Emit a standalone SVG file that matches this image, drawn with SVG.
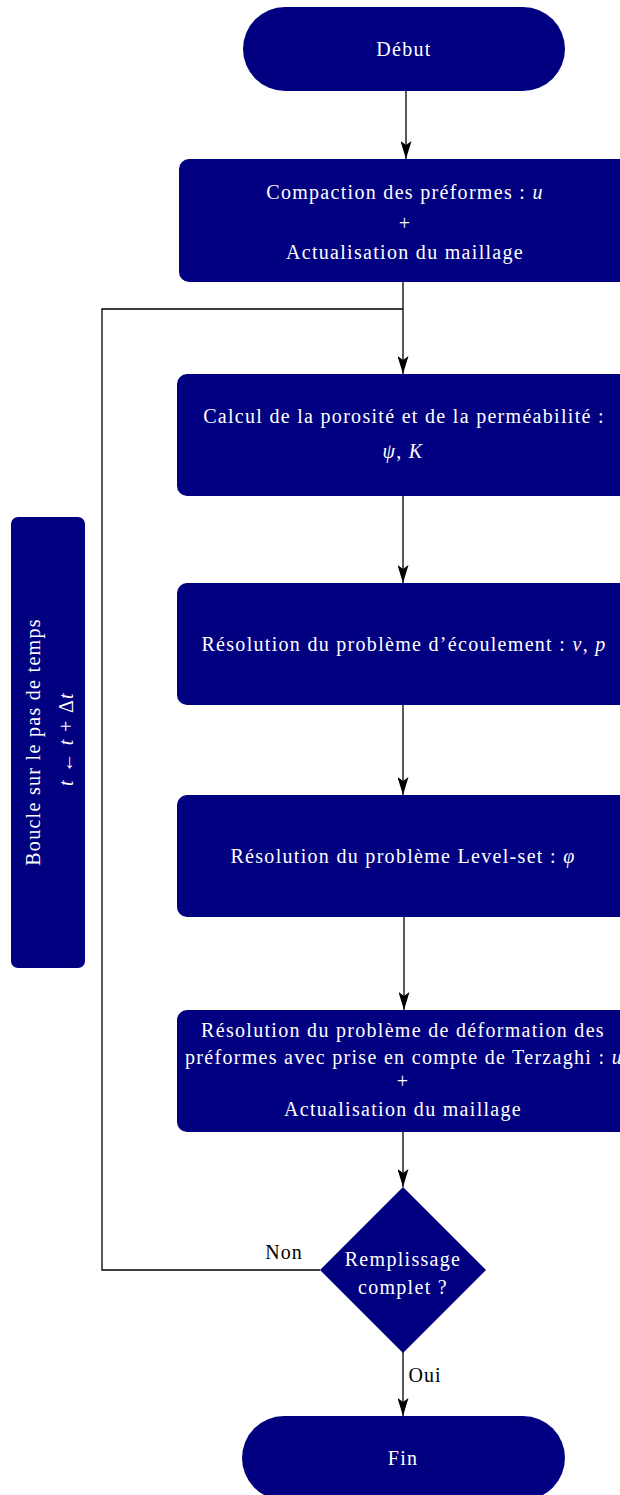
<svg xmlns="http://www.w3.org/2000/svg" width="620" height="1495" viewBox="0 0 620 1495">
<style>
.n{fill:#000080}
.t{font-family:"Liberation Serif","DejaVu Serif",serif;font-size:20px;letter-spacing:1.3px;fill:#ffffff;text-anchor:middle;dominant-baseline:central}
.l{font-family:"Liberation Serif","DejaVu Serif",serif;font-size:20px;letter-spacing:1px;fill:#000000;text-anchor:middle;dominant-baseline:central}
.m{font-style:italic}
.c{fill:none;stroke:#000;stroke-width:1.3}
</style>
<defs>
<marker id="ah" viewBox="0 0 18 11" refX="18" refY="5.5" markerWidth="18" markerHeight="11" markerUnits="userSpaceOnUse" orient="auto">
<path d="M0,0 L18,5.5 L0,11 L4,5.5 Z" fill="#000"/>
</marker>
</defs>
<g id="connectors">
<line class="c" x1="406" y1="91" x2="406" y2="159" marker-end="url(#ah)"/>
<line class="c" x1="403" y1="282" x2="403" y2="374" marker-end="url(#ah)"/>
<line class="c" x1="403" y1="496" x2="403" y2="583" marker-end="url(#ah)"/>
<line class="c" x1="403" y1="705" x2="403" y2="795" marker-end="url(#ah)"/>
<line class="c" x1="404" y1="917" x2="404" y2="1010" marker-end="url(#ah)"/>
<line class="c" x1="403" y1="1132" x2="403" y2="1187" marker-end="url(#ah)"/>
<line class="c" x1="403" y1="1352" x2="403" y2="1416" marker-end="url(#ah)"/>
<polyline class="c" points="320,1270 102,1270 102,309 403,309"/>
<text class="l" x="284" y="1252">Non</text>
<text class="l" x="425" y="1375">Oui</text>
</g>
<g id="debut">
<rect class="n" x="243" y="7" width="322" height="84" rx="42" ry="42"/>
<text class="t" x="404" y="49">Début</text>
</g>
<g id="compaction">
<rect class="n" x="179" y="159" width="452" height="123" rx="10" ry="10"/>
<text class="t" x="405" y="192">Compaction des préformes : <tspan class="m">u</tspan></text>
<text class="t" x="405" y="223">+</text>
<text class="t" x="405" y="252">Actualisation du maillage</text>
</g>
<g id="calcul">
<rect class="n" x="177" y="374" width="452" height="122" rx="10" ry="10"/>
<text class="t" x="404" y="416">Calcul de la porosité et de la perméabilité :</text>
<text class="t" x="403" y="451"><tspan class="m">ψ</tspan>, <tspan class="m">K</tspan></text>
</g>
<g id="ecoulement">
<rect class="n" x="177" y="583" width="452" height="122" rx="10" ry="10"/>
<text class="t" x="404" y="644">Résolution du problème d’écoulement : <tspan class="m">v</tspan>, <tspan class="m">p</tspan></text>
</g>
<g id="levelset">
<rect class="n" x="177" y="795" width="452" height="122" rx="10" ry="10"/>
<text class="t" x="403" y="856">Résolution du problème Level-set : <tspan class="m">φ</tspan></text>
</g>
<g id="deformation">
<rect class="n" x="177" y="1010" width="452" height="122" rx="10" ry="10"/>
<text class="t" x="403" y="1030">Résolution du problème de déformation des</text>
<text class="t" x="404" y="1057">préformes avec prise en compte de Terzaghi : <tspan class="m">u</tspan></text>
<text class="t" x="403" y="1081">+</text>
<text class="t" x="403" y="1109">Actualisation du maillage</text>
</g>
<g id="decision">
<polygon class="n" points="403,1187 486,1270 403,1353 320,1270"/>
<text class="t" x="403" y="1259">Remplissage</text>
<text class="t" x="403" y="1287">complet ?</text>
</g>
<g id="fin">
<rect class="n" x="242" y="1416" width="323" height="84" rx="42" ry="42"/>
<text class="t" x="403" y="1458">Fin</text>
</g>
<g id="boucle">
<rect class="n" x="11" y="517" width="74" height="451" rx="7" ry="7"/>
<text class="t" transform="translate(33,742) rotate(-90)" x="0" y="0">Boucle sur le pas de temps</text>
<text class="t" transform="translate(66,739) rotate(-90)" x="0" y="0"><tspan class="m">t</tspan> ← <tspan class="m">t</tspan> + Δ<tspan class="m">t</tspan></text>
</g>
</svg>
